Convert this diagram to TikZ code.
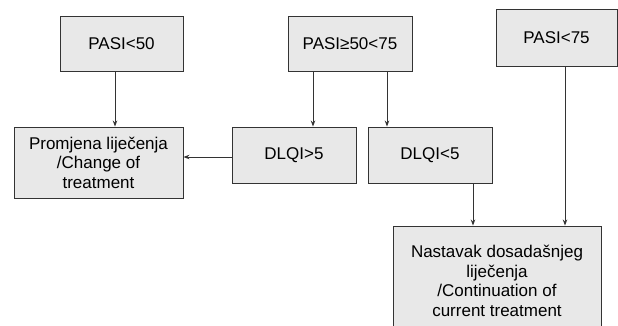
\documentclass[tikz,border=0pt]{standalone}
\usepackage{fontspec}
\setmainfont{Liberation Sans}
\usetikzlibrary{arrows.meta}
\begin{document}
\begin{tikzpicture}[x=1pt, y=-1pt, line width=0.9pt, >={Stealth[length=6pt,width=4.5pt]},
box/.style={rectangle,draw=black!80,fill=black!9,inner sep=0pt,align=center,font=\fontsize{17}{19.5}\selectfont}]
\useasboundingbox (0,0) rectangle (618,325);
\clip (0,0) rectangle (618,325);
\begin{scope}
\node[box, minimum width=123pt, minimum height=55pt] (pasi1) at (121.5,43.5) {PASI<50};
\node[box, minimum width=124pt, minimum height=55pt] (pasi2) at (350,43.5) {PASI≥50<75};
\node[box, minimum width=121pt, minimum height=57pt] (pasi3) at (556.5,37.5) {PASI<75};
\node[box, minimum width=169pt, minimum height=71pt] (change) at (98.5,162.5) {Promjena liječenja\\/Change of\\treatment};
\node[box, minimum width=124pt, minimum height=56pt] (dlqi1) at (294,155) {DLQI>5};
\node[box, minimum width=124pt, minimum height=56pt] (dlqi2) at (430,155) {DLQI<5};
\node[box, minimum width=208pt, minimum height=110pt] (cont) at (497,281) {Nastavak dosadašnjeg\\liječenja\\/Continuation of\\current treatment};
\end{scope}
\begin{scope}[draw=black!80]
\draw[->] ([xshift=-6.5pt]pasi1.south) -- ([xshift=-6.5pt]pasi1.south |- change.north);
\draw[->] ([xshift=-37pt]pasi2.south) -- ([xshift=-37pt]pasi2.south |- dlqi1.north);
\draw[->] ([xshift=37pt]pasi2.south) -- ([xshift=37pt]pasi2.south |- dlqi2.north);
\draw[->] ([yshift=-2pt]dlqi1.west) -- ([yshift=-2pt]dlqi1.west -| change.east);
\draw[->] ([xshift=43pt]dlqi2.south) -- ([xshift=43pt]dlqi2.south |- cont.north);
\draw[->] ([xshift=8.5pt]pasi3.south) -- ([xshift=8.5pt]pasi3.south |- cont.north);
\end{scope}
\end{tikzpicture}
\end{document}
